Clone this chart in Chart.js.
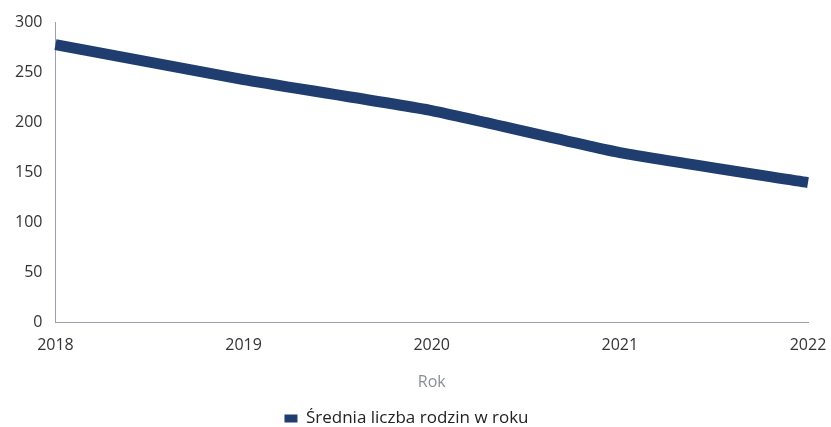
<!DOCTYPE html>
<html>
<head>
<meta charset="utf-8">
<script src="https://cdn.jsdelivr.net/npm/chart.js@4"></script>
<style>
  html, body { margin: 0; padding: 0; background: #fff; }
  #wrap { width: 831px; height: 427px; }
</style>
</head>
<body>
<div id="wrap"><canvas id="familyChart"></canvas></div>
<script>
const years = ['2018', '2019', '2020', '2021', '2022'];
const avgFamilies = [278, 243, 212, 170, 140];
const seriesLabel = 'Średnia liczba rodzin w roku';

const ctx = document.getElementById('familyChart').getContext('2d');

const familyChart = new Chart(ctx, {
    type: 'line',
    data: {
        labels: years,
        datasets: [{
            label: seriesLabel,
            data: avgFamilies,
            borderColor: '#1f3d6e',
            backgroundColor: '#1f3d6e',
            borderWidth: 11,
            pointRadius: 0,
            tension: 0.15,
            fill: false
        }]
    },
    options: {
        responsive: true,
        maintainAspectRatio: false,
        animation: false,
        layout: { padding: { top: 12, right: 20, left: 2, bottom: -10 } },
        scales: {
            x: {
                offset: false,
                grid: { display: false, drawTicks: false },
                border: { color: '#9aa0a8', width: 1 },
                ticks: { color: '#333', font: { family: 'Open Sans', size: 16 }, padding: 13 },
                title: {
                    display: true,
                    text: 'Rok',
                    color: '#8a8f96',
                    font: { family: 'Open Sans', size: 16 },
                    padding: { top: 5, bottom: 16 }
                },
                // keep the last year label close to the right edge
                afterFit: (scale) => { scale.paddingRight = 23; }
            },
            y: {
                min: 0,
                max: 300,
                grid: { display: false, drawTicks: false },
                border: { color: '#9aa0a8', width: 1 },
                ticks: { stepSize: 50, color: '#333', font: { family: 'Open Sans', size: 16 }, padding: 13 }
            }
        },
        plugins: {
            legend: {
                position: 'bottom',
                labels: {
                    boxWidth: 13,
                    boxHeight: 8,
                    color: '#222',
                    font: { family: 'Open Sans', size: 17 },
                    padding: 2,
                    generateLabels: (chart) => {
                        return Chart.defaults.plugins.legend.labels.generateLabels(chart).map(item => {
                            item.lineWidth = 0;
                            return item;
                        });
                    }
                }
            },
            tooltip: { enabled: false }
        }
    }
});
</script>
</body>
</html>
